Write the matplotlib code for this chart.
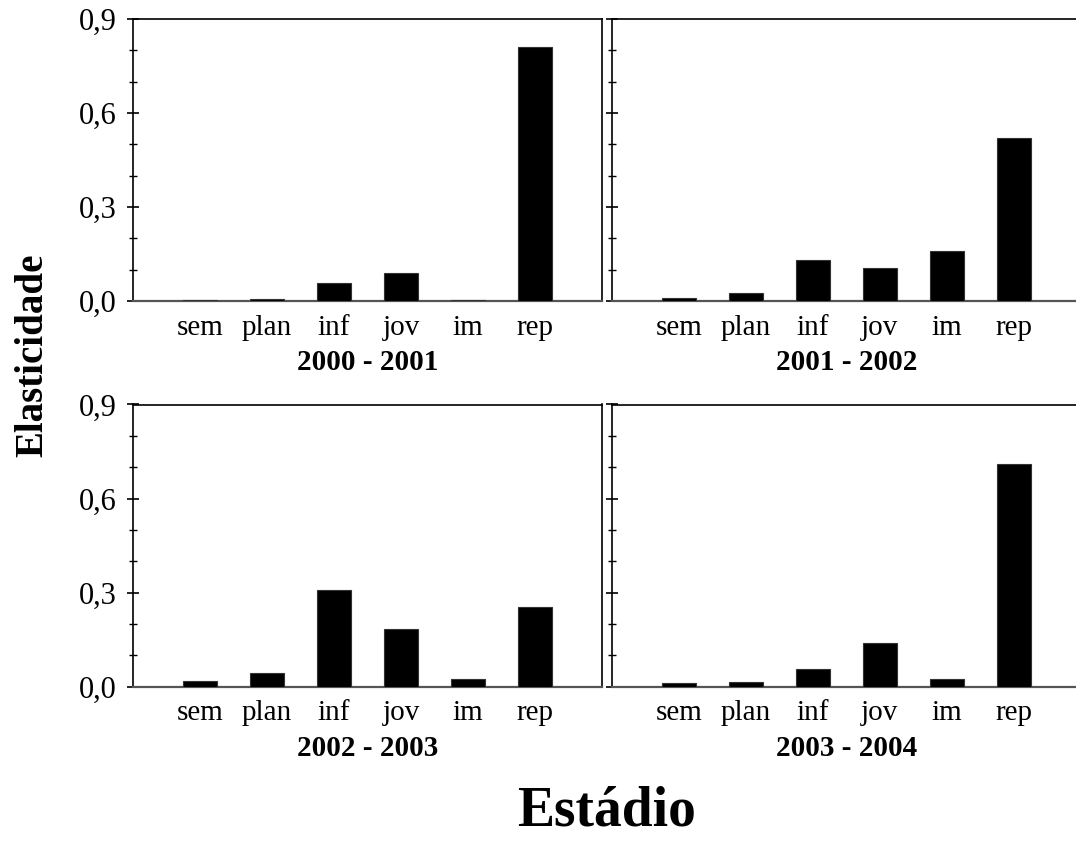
import matplotlib
matplotlib.use("Agg")
import matplotlib.pyplot as plt
from matplotlib.ticker import MultipleLocator, FixedLocator

plt.rcParams['font.family'] = ['Liberation Serif', 'DejaVu Serif']

categories = ["sem", "plan", "inf", "jov", "im", "rep"]
periods = ["2000 - 2001", "2001 - 2002", "2002 - 2003", "2003 - 2004"]
vals_2000_2001 = [0.003, 0.005, 0.057, 0.089, 0.003, 0.81]
vals_2001_2002 = [0.008, 0.026, 0.130, 0.105, 0.160, 0.52]
vals_2002_2003 = [0.018, 0.043, 0.309, 0.182, 0.025, 0.254]
vals_2003_2004 = [0.010, 0.014, 0.055, 0.138, 0.025, 0.710]
yticks = [0.0, 0.3, 0.6, 0.9]
ytick_labels = ["0,0", "0,3", "0,6", "0,9"]

all_vals = [vals_2000_2001, vals_2001_2002, vals_2002_2003, vals_2003_2004]

W, H = 1076, 841
fig = plt.figure(figsize=(W / 100, H / 100), dpi=100)

def px_axes(left, top, right, bottom):
    return fig.add_axes([left / W, 1 - bottom / H, (right - left) / W, (bottom - top) / H])

boxes = [
    (133, 19, 602, 301),
    (612, 19, 1081, 301),
    (133, 404.5, 602, 686.5),
    (612, 404.5, 1081, 686.5),
]

for i, (box, vals, per) in enumerate(zip(boxes, all_vals, periods)):
    ax = px_axes(*box)
    x = list(range(len(categories)))
    ax.bar(x, vals, width=0.52, color="black", edgecolor="#333333", linewidth=0.8, zorder=3)
    ax.set_xlim(-1, 6)
    ax.set_ylim(0, 0.9)
    ax.set_xticks(x)
    ax.set_xticklabels(categories, fontsize=21)
    ax.tick_params(axis="x", length=0, pad=10)
    ax.yaxis.set_major_locator(FixedLocator(yticks))
    ax.yaxis.set_minor_locator(MultipleLocator(0.1))
    ax.tick_params(axis="y", which="major", direction="inout", length=9, width=1.2)
    ax.tick_params(axis="y", which="minor", direction="inout", length=6, width=1.0)
    if i % 2 == 0:
        ax.set_yticklabels(ytick_labels, fontsize=22)
        ax.tick_params(axis="y", which="major", pad=7)
        ax.spines["right"].set_visible(True)
    else:
        ax.set_yticklabels([])
        ax.spines["right"].set_visible(False)
    for s in ["top", "left", "right"]:
        ax.spines[s].set_linewidth(1.2)
        ax.spines[s].set_color("black")
    ax.spines["bottom"].set_linewidth(1.6)
    ax.spines["bottom"].set_color("#555555")
    ax.set_xlabel(per, fontsize=21, fontweight="bold", labelpad=6)

fig.text(607 / W, 1 - 812 / H, "Estádio", fontsize=40, fontweight="bold",
         ha="center", va="center")
fig.text(33 / W, 1 - 355 / H, "Elasticidade", fontsize=28, fontweight="bold",
         ha="center", va="center", rotation=90)

fig.savefig("out.png", dpi=100)
